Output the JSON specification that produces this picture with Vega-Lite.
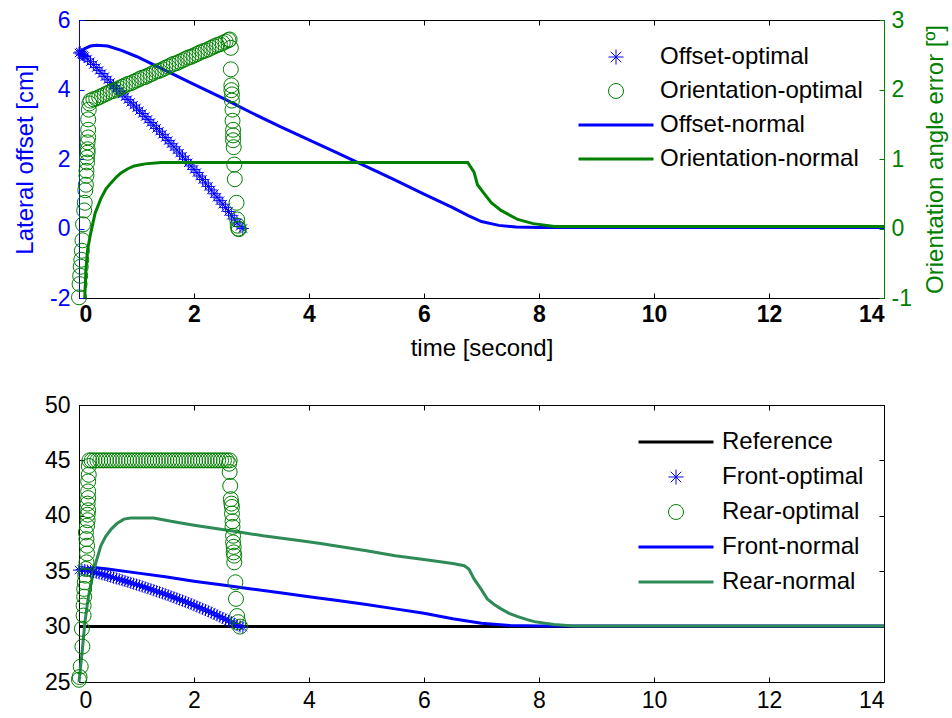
{
  "$schema": "https://vega.github.io/schema/vega-lite/v6.json",
  "background": "white",
  "padding": {"left": 13, "top": 8, "right": 5, "bottom": 5},
  "spacing": 32,
  "config": {
    "font": "Liberation Sans",
    "view": {"stroke": "black", "strokeWidth": 1},
    "axis": {"labelFontSize": 23, "titleFontSize": 24, "titleFontWeight": "normal", "grid": false, "domainColor": "black", "tickColor": "black", "labelColor": "black", "titleColor": "black", "tickSize": -5, "labelPadding": 14, "labelFont": "Liberation Sans", "titleFont": "Liberation Sans"},
    "legend": {"labelFont": "Liberation Sans", "labelFontSize": 24, "labelLimit": 400}
  },
  "datasets": {
    "top": [
      {"t":0,"v":5.05,"s":"Offset-normal"},{"t":0.1,"v":5.18,"s":"Offset-normal"},{"t":0.2,"v":5.25,"s":"Offset-normal"},{"t":0.3,"v":5.27,"s":"Offset-normal"},{"t":0.5,"v":5.25,"s":"Offset-normal"},{"t":0.75,"v":5.12,"s":"Offset-normal"},{"t":1.0,"v":4.95,"s":"Offset-normal"},{"t":1.5,"v":4.55,"s":"Offset-normal"},{"t":2.0,"v":4.15,"s":"Offset-normal"},{"t":2.5,"v":3.75,"s":"Offset-normal"},{"t":3.0,"v":3.33,"s":"Offset-normal"},{"t":3.5,"v":2.93,"s":"Offset-normal"},{"t":4.0,"v":2.55,"s":"Offset-normal"},{"t":4.5,"v":2.17,"s":"Offset-normal"},{"t":5.0,"v":1.78,"s":"Offset-normal"},{"t":5.5,"v":1.39,"s":"Offset-normal"},{"t":6.0,"v":0.99,"s":"Offset-normal"},{"t":6.5,"v":0.6,"s":"Offset-normal"},{"t":6.77,"v":0.37,"s":"Offset-normal"},{"t":7.0,"v":0.2,"s":"Offset-normal"},{"t":7.3,"v":0.09,"s":"Offset-normal"},{"t":7.6,"v":0.04,"s":"Offset-normal"},{"t":8.0,"v":0.03,"s":"Offset-normal"},{"t":14,"v":0.03,"s":"Offset-normal"},
      {"t":0.1,"v":-1,"s":"Orientation-normal"},{"t":0.12,"v":-0.6,"s":"Orientation-normal"},{"t":0.15,"v":-0.3,"s":"Orientation-normal"},{"t":0.2,"v":-0.08,"s":"Orientation-normal"},{"t":0.28,"v":0.22,"s":"Orientation-normal"},{"t":0.38,"v":0.43,"s":"Orientation-normal"},{"t":0.47,"v":0.57,"s":"Orientation-normal"},{"t":0.56,"v":0.66,"s":"Orientation-normal"},{"t":0.65,"v":0.74,"s":"Orientation-normal"},{"t":0.73,"v":0.8,"s":"Orientation-normal"},{"t":0.85,"v":0.86,"s":"Orientation-normal"},{"t":0.96,"v":0.9,"s":"Orientation-normal"},{"t":1.15,"v":0.93,"s":"Orientation-normal"},{"t":1.43,"v":0.95,"s":"Orientation-normal"},{"t":6.76,"v":0.95,"s":"Orientation-normal"},{"t":6.87,"v":0.81,"s":"Orientation-normal"},{"t":6.93,"v":0.63,"s":"Orientation-normal"},{"t":7.03,"v":0.52,"s":"Orientation-normal"},{"t":7.17,"v":0.37,"s":"Orientation-normal"},{"t":7.34,"v":0.26,"s":"Orientation-normal"},{"t":7.63,"v":0.13,"s":"Orientation-normal"},{"t":7.9,"v":0.07,"s":"Orientation-normal"},{"t":8.27,"v":0.03,"s":"Orientation-normal"},{"t":14,"v":0.03,"s":"Orientation-normal"},
      {"t":0,"v":5.05,"s":"Offset-optimal"},{"t":0.02,"v":5.08,"s":"Offset-optimal"},{"t":0.04,"v":5.02,"s":"Offset-optimal"},{"t":0.06,"v":5.0,"s":"Offset-optimal"},{"t":0.08,"v":4.98,"s":"Offset-optimal"},{"t":0.1,"v":4.95,"s":"Offset-optimal"},{"t":0.15,"v":4.88,"s":"Offset-optimal"},{"t":0.2,"v":4.8,"s":"Offset-optimal"},{"t":0.25,"v":4.72,"s":"Offset-optimal"},{"t":0.3,"v":4.63,"s":"Offset-optimal"},{"t":0.35,"v":4.55,"s":"Offset-optimal"},{"t":0.4,"v":4.46,"s":"Offset-optimal"},{"t":0.45,"v":4.37,"s":"Offset-optimal"},{"t":0.5,"v":4.28,"s":"Offset-optimal"},{"t":0.55,"v":4.2,"s":"Offset-optimal"},{"t":0.6,"v":4.11,"s":"Offset-optimal"},{"t":0.65,"v":4.03,"s":"Offset-optimal"},{"t":0.7,"v":3.95,"s":"Offset-optimal"},{"t":0.75,"v":3.87,"s":"Offset-optimal"},{"t":0.8,"v":3.79,"s":"Offset-optimal"},{"t":0.85,"v":3.71,"s":"Offset-optimal"},{"t":0.9,"v":3.63,"s":"Offset-optimal"},{"t":0.95,"v":3.55,"s":"Offset-optimal"},{"t":1.0,"v":3.47,"s":"Offset-optimal"},{"t":1.05,"v":3.39,"s":"Offset-optimal"},{"t":1.1,"v":3.31,"s":"Offset-optimal"},{"t":1.15,"v":3.22,"s":"Offset-optimal"},{"t":1.2,"v":3.14,"s":"Offset-optimal"},{"t":1.25,"v":3.05,"s":"Offset-optimal"},{"t":1.3,"v":2.97,"s":"Offset-optimal"},{"t":1.35,"v":2.88,"s":"Offset-optimal"},{"t":1.4,"v":2.8,"s":"Offset-optimal"},{"t":1.45,"v":2.71,"s":"Offset-optimal"},{"t":1.5,"v":2.62,"s":"Offset-optimal"},{"t":1.55,"v":2.53,"s":"Offset-optimal"},{"t":1.6,"v":2.44,"s":"Offset-optimal"},{"t":1.65,"v":2.35,"s":"Offset-optimal"},{"t":1.7,"v":2.26,"s":"Offset-optimal"},{"t":1.75,"v":2.17,"s":"Offset-optimal"},{"t":1.8,"v":2.08,"s":"Offset-optimal"},{"t":1.85,"v":1.99,"s":"Offset-optimal"},{"t":1.9,"v":1.89,"s":"Offset-optimal"},{"t":1.95,"v":1.8,"s":"Offset-optimal"},{"t":2.0,"v":1.7,"s":"Offset-optimal"},{"t":2.05,"v":1.61,"s":"Offset-optimal"},{"t":2.1,"v":1.51,"s":"Offset-optimal"},{"t":2.15,"v":1.41,"s":"Offset-optimal"},{"t":2.2,"v":1.31,"s":"Offset-optimal"},{"t":2.25,"v":1.21,"s":"Offset-optimal"},{"t":2.3,"v":1.11,"s":"Offset-optimal"},{"t":2.35,"v":1.0,"s":"Offset-optimal"},{"t":2.4,"v":0.9,"s":"Offset-optimal"},{"t":2.45,"v":0.8,"s":"Offset-optimal"},{"t":2.5,"v":0.7,"s":"Offset-optimal"},{"t":2.55,"v":0.6,"s":"Offset-optimal"},{"t":2.6,"v":0.49,"s":"Offset-optimal"},{"t":2.65,"v":0.38,"s":"Offset-optimal"},{"t":2.7,"v":0.27,"s":"Offset-optimal"},{"t":2.75,"v":0.16,"s":"Offset-optimal"},{"t":2.8,"v":0.06,"s":"Offset-optimal"},{"t":2.85,"v":0.0,"s":"Offset-optimal"},
      {"t":0.0,"v":-0.99,"s":"Orientation-optimal"},{"t":0.01,"v":-0.8,"s":"Orientation-optimal"},{"t":0.02,"v":-0.68,"s":"Orientation-optimal"},{"t":0.03,"v":-0.55,"s":"Orientation-optimal"},{"t":0.04,"v":-0.45,"s":"Orientation-optimal"},{"t":0.05,"v":-0.32,"s":"Orientation-optimal"},{"t":0.06,"v":-0.17,"s":"Orientation-optimal"},{"t":0.07,"v":0.06,"s":"Orientation-optimal"},{"t":0.09,"v":0.26,"s":"Orientation-optimal"},{"t":0.1,"v":0.37,"s":"Orientation-optimal"},{"t":0.11,"v":0.55,"s":"Orientation-optimal"},{"t":0.12,"v":0.63,"s":"Orientation-optimal"},{"t":0.13,"v":0.76,"s":"Orientation-optimal"},{"t":0.13,"v":0.83,"s":"Orientation-optimal"},{"t":0.14,"v":0.95,"s":"Orientation-optimal"},{"t":0.14,"v":1.02,"s":"Orientation-optimal"},{"t":0.15,"v":1.09,"s":"Orientation-optimal"},{"t":0.15,"v":1.14,"s":"Orientation-optimal"},{"t":0.15,"v":1.24,"s":"Orientation-optimal"},{"t":0.16,"v":1.31,"s":"Orientation-optimal"},{"t":0.16,"v":1.42,"s":"Orientation-optimal"},{"t":0.16,"v":1.57,"s":"Orientation-optimal"},{"t":0.17,"v":1.71,"s":"Orientation-optimal"},{"t":0.18,"v":1.8,"s":"Orientation-optimal"},{"t":0.2,"v":1.84,"s":"Orientation-optimal"},
      {"t":0.25,"v":1.86,"s":"Orientation-optimal"},{"t":0.3,"v":1.87,"s":"Orientation-optimal"},{"t":0.35,"v":1.89,"s":"Orientation-optimal"},{"t":0.4,"v":1.91,"s":"Orientation-optimal"},{"t":0.45,"v":1.93,"s":"Orientation-optimal"},{"t":0.5,"v":1.95,"s":"Orientation-optimal"},{"t":0.55,"v":1.97,"s":"Orientation-optimal"},{"t":0.6,"v":1.98,"s":"Orientation-optimal"},{"t":0.65,"v":2.0,"s":"Orientation-optimal"},{"t":0.7,"v":2.02,"s":"Orientation-optimal"},{"t":0.75,"v":2.04,"s":"Orientation-optimal"},{"t":0.8,"v":2.06,"s":"Orientation-optimal"},{"t":0.85,"v":2.08,"s":"Orientation-optimal"},{"t":0.9,"v":2.09,"s":"Orientation-optimal"},{"t":0.95,"v":2.11,"s":"Orientation-optimal"},{"t":1.0,"v":2.13,"s":"Orientation-optimal"},{"t":1.05,"v":2.15,"s":"Orientation-optimal"},{"t":1.1,"v":2.17,"s":"Orientation-optimal"},{"t":1.15,"v":2.18,"s":"Orientation-optimal"},{"t":1.2,"v":2.2,"s":"Orientation-optimal"},{"t":1.25,"v":2.22,"s":"Orientation-optimal"},{"t":1.3,"v":2.24,"s":"Orientation-optimal"},{"t":1.35,"v":2.26,"s":"Orientation-optimal"},{"t":1.4,"v":2.27,"s":"Orientation-optimal"},{"t":1.45,"v":2.29,"s":"Orientation-optimal"},{"t":1.5,"v":2.31,"s":"Orientation-optimal"},{"t":1.55,"v":2.33,"s":"Orientation-optimal"},{"t":1.6,"v":2.35,"s":"Orientation-optimal"},{"t":1.65,"v":2.37,"s":"Orientation-optimal"},{"t":1.7,"v":2.38,"s":"Orientation-optimal"},{"t":1.75,"v":2.4,"s":"Orientation-optimal"},{"t":1.8,"v":2.42,"s":"Orientation-optimal"},{"t":1.85,"v":2.44,"s":"Orientation-optimal"},{"t":1.9,"v":2.46,"s":"Orientation-optimal"},{"t":1.95,"v":2.47,"s":"Orientation-optimal"},{"t":2.0,"v":2.49,"s":"Orientation-optimal"},{"t":2.05,"v":2.51,"s":"Orientation-optimal"},{"t":2.1,"v":2.53,"s":"Orientation-optimal"},{"t":2.15,"v":2.55,"s":"Orientation-optimal"},{"t":2.2,"v":2.56,"s":"Orientation-optimal"},{"t":2.25,"v":2.58,"s":"Orientation-optimal"},{"t":2.3,"v":2.6,"s":"Orientation-optimal"},{"t":2.35,"v":2.62,"s":"Orientation-optimal"},{"t":2.4,"v":2.64,"s":"Orientation-optimal"},{"t":2.45,"v":2.65,"s":"Orientation-optimal"},{"t":2.5,"v":2.67,"s":"Orientation-optimal"},{"t":2.55,"v":2.69,"s":"Orientation-optimal"},{"t":2.6,"v":2.71,"s":"Orientation-optimal"},{"t":2.62,"v":2.72,"s":"Orientation-optimal"},
      {"t":2.64,"v":2.6,"s":"Orientation-optimal"},{"t":2.64,"v":2.29,"s":"Orientation-optimal"},{"t":2.65,"v":2.06,"s":"Orientation-optimal"},{"t":2.65,"v":1.99,"s":"Orientation-optimal"},{"t":2.66,"v":1.93,"s":"Orientation-optimal"},{"t":2.66,"v":1.84,"s":"Orientation-optimal"},{"t":2.67,"v":1.71,"s":"Orientation-optimal"},{"t":2.67,"v":1.55,"s":"Orientation-optimal"},{"t":2.68,"v":1.42,"s":"Orientation-optimal"},{"t":2.68,"v":1.34,"s":"Orientation-optimal"},{"t":2.68,"v":1.27,"s":"Orientation-optimal"},{"t":2.69,"v":1.17,"s":"Orientation-optimal"},{"t":2.7,"v":0.92,"s":"Orientation-optimal"},{"t":2.71,"v":0.71,"s":"Orientation-optimal"},{"t":2.74,"v":0.37,"s":"Orientation-optimal"},{"t":2.75,"v":0.13,"s":"Orientation-optimal"},{"t":2.76,"v":0.04,"s":"Orientation-optimal"},{"t":2.77,"v":0.0,"s":"Orientation-optimal"},{"t":2.78,"v":-0.01,"s":"Orientation-optimal"}
    ],
    "bottom": [
      {"t":0,"v":30,"s":"Reference"},{"t":14,"v":30,"s":"Reference"},
      {"t":0,"v":35.0,"s":"Front-normal"},{"t":0.1,"v":35.2,"s":"Front-normal"},{"t":0.3,"v":35.3,"s":"Front-normal"},{"t":0.5,"v":35.2,"s":"Front-normal"},{"t":1.0,"v":34.85,"s":"Front-normal"},{"t":1.5,"v":34.5,"s":"Front-normal"},{"t":2.0,"v":34.1,"s":"Front-normal"},{"t":2.5,"v":33.75,"s":"Front-normal"},{"t":3.0,"v":33.4,"s":"Front-normal"},{"t":3.5,"v":33.05,"s":"Front-normal"},{"t":4.0,"v":32.7,"s":"Front-normal"},{"t":4.5,"v":32.35,"s":"Front-normal"},{"t":5.0,"v":32.0,"s":"Front-normal"},{"t":5.5,"v":31.6,"s":"Front-normal"},{"t":6.0,"v":31.2,"s":"Front-normal"},{"t":6.5,"v":30.7,"s":"Front-normal"},{"t":7.0,"v":30.3,"s":"Front-normal"},{"t":7.5,"v":30.1,"s":"Front-normal"},{"t":8.0,"v":30.05,"s":"Front-normal"},{"t":14,"v":30.05,"s":"Front-normal"},
      {"t":0,"v":25.0,"s":"Rear-normal"},{"t":0.03,"v":26.5,"s":"Rear-normal"},{"t":0.06,"v":28.0,"s":"Rear-normal"},{"t":0.1,"v":30.3,"s":"Rear-normal"},{"t":0.15,"v":32.2,"s":"Rear-normal"},{"t":0.2,"v":33.7,"s":"Rear-normal"},{"t":0.24,"v":34.6,"s":"Rear-normal"},{"t":0.3,"v":35.9,"s":"Rear-normal"},{"t":0.38,"v":37.3,"s":"Rear-normal"},{"t":0.46,"v":38.1,"s":"Rear-normal"},{"t":0.56,"v":38.8,"s":"Rear-normal"},{"t":0.66,"v":39.3,"s":"Rear-normal"},{"t":0.78,"v":39.7,"s":"Rear-normal"},{"t":0.9,"v":39.8,"s":"Rear-normal"},{"t":1.3,"v":39.8,"s":"Rear-normal"},{"t":1.6,"v":39.5,"s":"Rear-normal"},{"t":2.0,"v":39.15,"s":"Rear-normal"},{"t":2.7,"v":38.6,"s":"Rear-normal"},{"t":3.2,"v":38.2,"s":"Rear-normal"},{"t":3.86,"v":37.75,"s":"Rear-normal"},{"t":4.2,"v":37.5,"s":"Rear-normal"},{"t":5.0,"v":36.85,"s":"Rear-normal"},{"t":5.5,"v":36.4,"s":"Rear-normal"},{"t":6.0,"v":36.05,"s":"Rear-normal"},{"t":6.5,"v":35.7,"s":"Rear-normal"},{"t":6.7,"v":35.5,"s":"Rear-normal"},{"t":6.78,"v":35.2,"s":"Rear-normal"},{"t":6.87,"v":34.3,"s":"Rear-normal"},{"t":6.99,"v":33.4,"s":"Rear-normal"},{"t":7.1,"v":32.5,"s":"Rear-normal"},{"t":7.22,"v":32.0,"s":"Rear-normal"},{"t":7.34,"v":31.6,"s":"Rear-normal"},{"t":7.48,"v":31.2,"s":"Rear-normal"},{"t":7.63,"v":30.9,"s":"Rear-normal"},{"t":7.78,"v":30.65,"s":"Rear-normal"},{"t":7.92,"v":30.45,"s":"Rear-normal"},{"t":8.1,"v":30.3,"s":"Rear-normal"},{"t":8.26,"v":30.2,"s":"Rear-normal"},{"t":8.6,"v":30.05,"s":"Rear-normal"},{"t":14,"v":30.05,"s":"Rear-normal"},
      {"t":0,"v":35.1,"s":"Front-optimal"},{"t":0.05,"v":35.15,"s":"Front-optimal"},{"t":0.1,"v":35.1,"s":"Front-optimal"},{"t":0.15,"v":35.05,"s":"Front-optimal"},{"t":0.2,"v":35.0,"s":"Front-optimal"},{"t":0.25,"v":34.93,"s":"Front-optimal"},{"t":0.3,"v":34.86,"s":"Front-optimal"},{"t":0.35,"v":34.79,"s":"Front-optimal"},{"t":0.4,"v":34.72,"s":"Front-optimal"},{"t":0.45,"v":34.65,"s":"Front-optimal"},{"t":0.5,"v":34.57,"s":"Front-optimal"},{"t":0.55,"v":34.5,"s":"Front-optimal"},{"t":0.6,"v":34.42,"s":"Front-optimal"},{"t":0.65,"v":34.34,"s":"Front-optimal"},{"t":0.7,"v":34.27,"s":"Front-optimal"},{"t":0.75,"v":34.19,"s":"Front-optimal"},{"t":0.8,"v":34.11,"s":"Front-optimal"},{"t":0.85,"v":34.03,"s":"Front-optimal"},{"t":0.9,"v":33.95,"s":"Front-optimal"},{"t":0.95,"v":33.87,"s":"Front-optimal"},{"t":1.0,"v":33.79,"s":"Front-optimal"},{"t":1.05,"v":33.71,"s":"Front-optimal"},{"t":1.1,"v":33.62,"s":"Front-optimal"},{"t":1.15,"v":33.54,"s":"Front-optimal"},{"t":1.2,"v":33.45,"s":"Front-optimal"},{"t":1.25,"v":33.37,"s":"Front-optimal"},{"t":1.3,"v":33.28,"s":"Front-optimal"},{"t":1.35,"v":33.19,"s":"Front-optimal"},{"t":1.4,"v":33.1,"s":"Front-optimal"},{"t":1.45,"v":33.01,"s":"Front-optimal"},{"t":1.5,"v":32.92,"s":"Front-optimal"},{"t":1.55,"v":32.83,"s":"Front-optimal"},{"t":1.6,"v":32.73,"s":"Front-optimal"},{"t":1.65,"v":32.64,"s":"Front-optimal"},{"t":1.7,"v":32.54,"s":"Front-optimal"},{"t":1.75,"v":32.44,"s":"Front-optimal"},{"t":1.8,"v":32.34,"s":"Front-optimal"},{"t":1.85,"v":32.24,"s":"Front-optimal"},{"t":1.9,"v":32.14,"s":"Front-optimal"},{"t":1.95,"v":32.04,"s":"Front-optimal"},{"t":2.0,"v":31.93,"s":"Front-optimal"},{"t":2.05,"v":31.82,"s":"Front-optimal"},{"t":2.1,"v":31.71,"s":"Front-optimal"},{"t":2.15,"v":31.6,"s":"Front-optimal"},{"t":2.2,"v":31.49,"s":"Front-optimal"},{"t":2.25,"v":31.38,"s":"Front-optimal"},{"t":2.3,"v":31.26,"s":"Front-optimal"},{"t":2.35,"v":31.14,"s":"Front-optimal"},{"t":2.4,"v":31.02,"s":"Front-optimal"},{"t":2.45,"v":30.9,"s":"Front-optimal"},{"t":2.5,"v":30.78,"s":"Front-optimal"},{"t":2.55,"v":30.65,"s":"Front-optimal"},{"t":2.6,"v":30.52,"s":"Front-optimal"},{"t":2.65,"v":30.39,"s":"Front-optimal"},{"t":2.7,"v":30.26,"s":"Front-optimal"},{"t":2.75,"v":30.13,"s":"Front-optimal"},{"t":2.8,"v":30.02,"s":"Front-optimal"},{"t":2.85,"v":29.95,"s":"Front-optimal"},
      {"t":0.0,"v":25.2,"s":"Rear-optimal"},{"t":0.01,"v":25.45,"s":"Rear-optimal"},{"t":0.03,"v":26.4,"s":"Rear-optimal"},{"t":0.06,"v":28.2,"s":"Rear-optimal"},{"t":0.05,"v":29.8,"s":"Rear-optimal"},{"t":0.08,"v":31.0,"s":"Rear-optimal"},{"t":0.08,"v":31.9,"s":"Rear-optimal"},{"t":0.09,"v":32.7,"s":"Rear-optimal"},{"t":0.09,"v":33.4,"s":"Rear-optimal"},{"t":0.1,"v":34.0,"s":"Rear-optimal"},{"t":0.11,"v":34.6,"s":"Rear-optimal"},{"t":0.12,"v":35.2,"s":"Rear-optimal"},{"t":0.13,"v":35.8,"s":"Rear-optimal"},{"t":0.14,"v":36.6,"s":"Rear-optimal"},{"t":0.14,"v":37.3,"s":"Rear-optimal"},{"t":0.13,"v":37.9,"s":"Rear-optimal"},{"t":0.12,"v":38.5,"s":"Rear-optimal"},{"t":0.14,"v":39.1,"s":"Rear-optimal"},{"t":0.15,"v":39.6,"s":"Rear-optimal"},{"t":0.15,"v":40.1,"s":"Rear-optimal"},{"t":0.16,"v":40.5,"s":"Rear-optimal"},{"t":0.15,"v":41.1,"s":"Rear-optimal"},{"t":0.16,"v":41.6,"s":"Rear-optimal"},{"t":0.16,"v":42.2,"s":"Rear-optimal"},{"t":0.16,"v":43.1,"s":"Rear-optimal"},{"t":0.17,"v":43.7,"s":"Rear-optimal"},{"t":0.17,"v":44.5,"s":"Rear-optimal"},{"t":0.18,"v":45.0,"s":"Rear-optimal"},
      {"t":0.22,"v":45.0,"s":"Rear-optimal"},{"t":0.27,"v":45.0,"s":"Rear-optimal"},{"t":0.32,"v":45.0,"s":"Rear-optimal"},{"t":0.37,"v":45.0,"s":"Rear-optimal"},{"t":0.42,"v":45.0,"s":"Rear-optimal"},{"t":0.47,"v":45.0,"s":"Rear-optimal"},{"t":0.52,"v":45.0,"s":"Rear-optimal"},{"t":0.57,"v":45.0,"s":"Rear-optimal"},{"t":0.62,"v":45.0,"s":"Rear-optimal"},{"t":0.67,"v":45.0,"s":"Rear-optimal"},{"t":0.72,"v":45.0,"s":"Rear-optimal"},{"t":0.77,"v":45.0,"s":"Rear-optimal"},{"t":0.82,"v":45.0,"s":"Rear-optimal"},{"t":0.87,"v":45.0,"s":"Rear-optimal"},{"t":0.92,"v":45.0,"s":"Rear-optimal"},{"t":0.97,"v":45.0,"s":"Rear-optimal"},{"t":1.02,"v":45.0,"s":"Rear-optimal"},{"t":1.07,"v":45.0,"s":"Rear-optimal"},{"t":1.12,"v":45.0,"s":"Rear-optimal"},{"t":1.17,"v":45.0,"s":"Rear-optimal"},{"t":1.22,"v":45.0,"s":"Rear-optimal"},{"t":1.27,"v":45.0,"s":"Rear-optimal"},{"t":1.32,"v":45.0,"s":"Rear-optimal"},{"t":1.37,"v":45.0,"s":"Rear-optimal"},{"t":1.42,"v":45.0,"s":"Rear-optimal"},{"t":1.47,"v":45.0,"s":"Rear-optimal"},{"t":1.52,"v":45.0,"s":"Rear-optimal"},{"t":1.57,"v":45.0,"s":"Rear-optimal"},{"t":1.62,"v":45.0,"s":"Rear-optimal"},{"t":1.67,"v":45.0,"s":"Rear-optimal"},{"t":1.72,"v":45.0,"s":"Rear-optimal"},{"t":1.77,"v":45.0,"s":"Rear-optimal"},{"t":1.82,"v":45.0,"s":"Rear-optimal"},{"t":1.87,"v":45.0,"s":"Rear-optimal"},{"t":1.92,"v":45.0,"s":"Rear-optimal"},{"t":1.97,"v":45.0,"s":"Rear-optimal"},{"t":2.02,"v":45.0,"s":"Rear-optimal"},{"t":2.07,"v":45.0,"s":"Rear-optimal"},{"t":2.12,"v":45.0,"s":"Rear-optimal"},{"t":2.17,"v":45.0,"s":"Rear-optimal"},{"t":2.22,"v":45.0,"s":"Rear-optimal"},{"t":2.27,"v":45.0,"s":"Rear-optimal"},{"t":2.32,"v":45.0,"s":"Rear-optimal"},{"t":2.37,"v":45.0,"s":"Rear-optimal"},{"t":2.42,"v":45.0,"s":"Rear-optimal"},{"t":2.47,"v":45.0,"s":"Rear-optimal"},{"t":2.52,"v":45.0,"s":"Rear-optimal"},{"t":2.57,"v":45.0,"s":"Rear-optimal"},{"t":2.62,"v":45.0,"s":"Rear-optimal"},
      {"t":2.61,"v":44.7,"s":"Rear-optimal"},{"t":2.62,"v":43.95,"s":"Rear-optimal"},{"t":2.63,"v":42.7,"s":"Rear-optimal"},{"t":2.64,"v":41.5,"s":"Rear-optimal"},{"t":2.65,"v":41.1,"s":"Rear-optimal"},{"t":2.66,"v":40.8,"s":"Rear-optimal"},{"t":2.66,"v":40.2,"s":"Rear-optimal"},{"t":2.67,"v":39.5,"s":"Rear-optimal"},{"t":2.67,"v":39.0,"s":"Rear-optimal"},{"t":2.68,"v":38.2,"s":"Rear-optimal"},{"t":2.68,"v":37.6,"s":"Rear-optimal"},{"t":2.69,"v":37.2,"s":"Rear-optimal"},{"t":2.69,"v":36.7,"s":"Rear-optimal"},{"t":2.7,"v":36.4,"s":"Rear-optimal"},{"t":2.7,"v":35.8,"s":"Rear-optimal"},{"t":2.72,"v":34.0,"s":"Rear-optimal"},{"t":2.73,"v":32.5,"s":"Rear-optimal"},{"t":2.75,"v":30.95,"s":"Rear-optimal"},{"t":2.77,"v":30.4,"s":"Rear-optimal"},{"t":2.8,"v":30.0,"s":"Rear-optimal"}
    ]
  },
  "resolve": {"scale": {"color": "independent", "shape": "independent", "strokeWidth": "independent"}},
  "vconcat": [
    {
      "width": 805,
      "height": 278,
      "data": {"name": "top"},
      "layer": [
        {
          "encoding": {
            "x": {"field": "t", "type": "quantitative", "scale": {"domain": [0, 14], "nice": false, "zero": false},
              "axis": {"orient": "bottom", "values": [0, 2, 4, 6, 8, 10, 12, 14], "title": "time [second]", "labelFontWeight": "bold", "labelPadding": 10, "titlePadding": 10}},
            "y": {"field": "v", "type": "quantitative", "scale": {"domain": [-2, 6], "nice": false, "zero": false},
              "axis": {"values": [-2, 0, 2, 4, 6], "labelExpr": "datum.value < 0 ? '-' + abs(datum.value) : '' + datum.value", "title": "Lateral offset [cm]", "orient": "left", "domainColor": "#0000FF", "tickColor": "#0000FF", "labelColor": "#0000FF", "titleColor": "#0000FF", "labelPadding": 14, "titlePadding": 12}},
            "color": {"field": "s", "type": "nominal",
              "scale": {"domain": ["Offset-optimal", "Orientation-optimal", "Offset-normal", "Orientation-normal"], "range": ["#0000FF", "#008000", "#0000FF", "#008000"]},
              "legend": {"title": null, "orient": "none", "legendX": 525, "legendY": 25, "padding": 0, "symbolSize": 225, "labelOffset": 32, "rowPadding": 10, "labelFontSize": 24, "symbolFillColor": "transparent"}},
            "strokeWidth": {"field": "s", "type": "nominal",
              "scale": {"type": "ordinal", "domain": ["Offset-optimal", "Orientation-optimal", "Offset-normal", "Orientation-normal"], "range": [1, 1, 3, 3]},
              "legend": {"title": null, "orient": "none", "legendX": 525, "legendY": 25, "padding": 0, "symbolSize": 225, "labelOffset": 32, "rowPadding": 10, "labelFontSize": 24, "symbolFillColor": "transparent"}}
          },
          "layer": [
            {"transform": [{"filter": "datum.s === 'Offset-normal'"}], "mark": {"type": "line"}},
            {"transform": [{"filter": "datum.s === 'Offset-optimal'"}], "mark": {"type": "point", "size": 144, "filled": false, "opacity": 1},
              "encoding": {"shape": {"field": "s", "type": "nominal",
                "scale": {"domain": ["Offset-optimal", "Orientation-optimal", "Offset-normal", "Orientation-normal"], "range": ["M-1,0H1M0,-1V1M-0.7,-0.7L0.7,0.7M-0.7,0.7L0.7,-0.7", "circle", "M-5,0H5", "M-5,0H5"]},
                "legend": {"title": null, "orient": "none", "legendX": 525, "legendY": 25, "padding": 0, "symbolSize": 225, "labelOffset": 32, "rowPadding": 10, "labelFontSize": 24, "symbolFillColor": "transparent"}}}}
          ]
        },
        {
          "encoding": {
            "x": {"field": "t", "type": "quantitative", "scale": {"domain": [0, 14], "nice": false, "zero": false},
              "axis": {"orient": "top", "values": [0, 2, 4, 6, 8, 10, 12, 14], "labels": false, "title": null}},
            "y": {"field": "v", "type": "quantitative", "scale": {"domain": [-1, 3], "nice": false, "zero": false},
              "axis": {"values": [-1, 0, 1, 2, 3], "labelExpr": "datum.value < 0 ? '-' + abs(datum.value) : '' + datum.value", "title": "Orientation angle error [º]", "orient": "right", "titleAngle": 270, "titleBaseline": "top", "domainColor": "#008000", "tickColor": "#008000", "labelColor": "#008000", "titleColor": "#008000", "labelPadding": 12, "titlePadding": 12}},
            "color": {"field": "s", "type": "nominal",
              "scale": {"domain": ["Offset-optimal", "Orientation-optimal", "Offset-normal", "Orientation-normal"], "range": ["#0000FF", "#008000", "#0000FF", "#008000"]},
              "legend": {"title": null, "orient": "none", "legendX": 525, "legendY": 25, "padding": 0, "symbolSize": 225, "labelOffset": 32, "rowPadding": 10, "labelFontSize": 24, "symbolFillColor": "transparent"}},
            "strokeWidth": {"field": "s", "type": "nominal",
              "scale": {"type": "ordinal", "domain": ["Offset-optimal", "Orientation-optimal", "Offset-normal", "Orientation-normal"], "range": [1, 1, 3, 3]},
              "legend": {"title": null, "orient": "none", "legendX": 525, "legendY": 25, "padding": 0, "symbolSize": 225, "labelOffset": 32, "rowPadding": 10, "labelFontSize": 24, "symbolFillColor": "transparent"}}
          },
          "layer": [
            {"transform": [{"filter": "datum.s === 'Orientation-normal'"}], "mark": {"type": "line"}},
            {"transform": [{"filter": "datum.s === 'Orientation-optimal'"}], "mark": {"type": "point", "size": 225, "filled": false, "opacity": 1},
              "encoding": {"shape": {"field": "s", "type": "nominal",
                "scale": {"domain": ["Offset-optimal", "Orientation-optimal", "Offset-normal", "Orientation-normal"], "range": ["M-1,0H1M0,-1V1M-0.7,-0.7L0.7,0.7M-0.7,0.7L0.7,-0.7", "circle", "M-5,0H5", "M-5,0H5"]},
                "legend": {"title": null, "orient": "none", "legendX": 525, "legendY": 25, "padding": 0, "symbolSize": 225, "labelOffset": 32, "rowPadding": 10, "labelFontSize": 24, "symbolFillColor": "transparent"}}}}
          ]
        }
      ],
      "resolve": {"scale": {"y": "independent"}, "axis": {"x": "independent"}}
    },
    {
      "width": 805,
      "height": 277,
      "data": {"name": "bottom"},
      "layer": [
        {
          "encoding": {
            "x": {"field": "t", "type": "quantitative", "scale": {"domain": [0, 14], "nice": false, "zero": false},
              "axis": {"orient": "bottom", "values": [0, 2, 4, 6, 8, 10, 12, 14], "title": null, "labelPadding": 12}},
            "y": {"field": "v", "type": "quantitative", "scale": {"domain": [25, 50], "nice": false, "zero": false},
              "axis": {"values": [25, 30, 35, 40, 45, 50], "title": null, "orient": "left", "labelPadding": 14}},
            "color": {"field": "s", "type": "nominal",
              "scale": {"domain": ["Reference", "Front-optimal", "Rear-optimal", "Front-normal", "Rear-normal"], "range": ["#000000", "#0000FF", "#008000", "#0000FF", "#2E8B57"]},
              "legend": {"title": null, "orient": "none", "legendX": 585, "legendY": 25, "padding": 0, "symbolSize": 225, "labelOffset": 34, "rowPadding": 11, "labelFontSize": 24, "symbolFillColor": "transparent"}},
            "strokeWidth": {"field": "s", "type": "nominal",
              "scale": {"type": "ordinal", "domain": ["Reference", "Front-optimal", "Rear-optimal", "Front-normal", "Rear-normal"], "range": [3, 1, 1, 3, 3]},
              "legend": {"title": null, "orient": "none", "legendX": 585, "legendY": 25, "padding": 0, "symbolSize": 225, "labelOffset": 34, "rowPadding": 11, "labelFontSize": 24, "symbolFillColor": "transparent"}}
          },
          "layer": [
            {"transform": [{"filter": "datum.s === 'Reference'"}], "mark": {"type": "line"}},
            {"transform": [{"filter": "datum.s === 'Front-normal'"}], "mark": {"type": "line"}},
            {"transform": [{"filter": "datum.s === 'Rear-normal'"}], "mark": {"type": "line"}},
            {"transform": [{"filter": "datum.s === 'Front-optimal'"}], "mark": {"type": "point", "size": 144, "filled": false, "opacity": 1},
              "encoding": {"shape": {"field": "s", "type": "nominal",
                "scale": {"domain": ["Reference", "Front-optimal", "Rear-optimal", "Front-normal", "Rear-normal"], "range": ["M-5,0H5", "M-1,0H1M0,-1V1M-0.7,-0.7L0.7,0.7M-0.7,0.7L0.7,-0.7", "circle", "M-5,0H5", "M-5,0H5"]},
                "legend": {"title": null, "orient": "none", "legendX": 585, "legendY": 25, "padding": 0, "symbolSize": 225, "labelOffset": 34, "rowPadding": 11, "labelFontSize": 24, "symbolFillColor": "transparent"}}}},
            {"transform": [{"filter": "datum.s === 'Rear-optimal'"}], "mark": {"type": "point", "size": 225, "filled": false, "opacity": 1},
              "encoding": {"shape": {"field": "s", "type": "nominal",
                "scale": {"domain": ["Reference", "Front-optimal", "Rear-optimal", "Front-normal", "Rear-normal"], "range": ["M-5,0H5", "M-1,0H1M0,-1V1M-0.7,-0.7L0.7,0.7M-0.7,0.7L0.7,-0.7", "circle", "M-5,0H5", "M-5,0H5"]},
                "legend": {"title": null, "orient": "none", "legendX": 585, "legendY": 25, "padding": 0, "symbolSize": 225, "labelOffset": 34, "rowPadding": 11, "labelFontSize": 24, "symbolFillColor": "transparent"}}}}
          ]
        },
        {
          "encoding": {
            "x": {"field": "t", "type": "quantitative", "scale": {"domain": [0, 14], "nice": false, "zero": false},
              "axis": {"orient": "top", "values": [0, 2, 4, 6, 8, 10, 12, 14], "labels": false, "title": null}},
            "y": {"field": "v", "type": "quantitative", "scale": {"domain": [25, 50], "nice": false, "zero": false},
              "axis": {"orient": "right", "values": [25, 30, 35, 40, 45, 50], "labels": false, "title": null}}
          },
          "layer": [
            {"transform": [{"filter": "datum.s === 'Reference'"}], "mark": {"type": "line", "strokeOpacity": 0}}
          ]
        }
      ],
      "resolve": {"axis": {"x": "independent", "y": "independent"}}
    }
  ]
}
